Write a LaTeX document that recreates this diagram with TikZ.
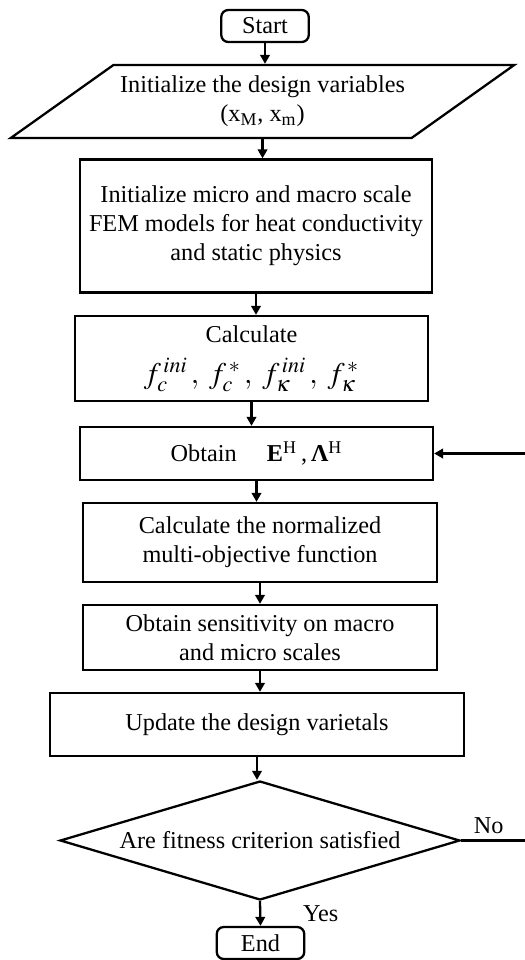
\documentclass[tikz,border=0pt]{standalone}
\usepackage{amsmath}
\usepackage{mathptmx}
\usepackage{fontspec}
\setmainfont{Liberation Serif}
\usetikzlibrary{
  arrows.meta,
  shapes.geometric,
  positioning
}
\definecolor{fcInk}{HTML}{000000}
\newcommand{\fcfont}{\fontsize{13.8}{16.5}\selectfont}
\tikzset{
  fcnode/.style={
    draw=fcInk, line width=1.3pt, font=\fcfont, align=center, inner sep=2pt
  },
  fcbox/.style={fcnode, rectangle, minimum width=7.06cm},
  fcterm/.style={fcnode, rounded corners=4pt, minimum width=1.75cm, minimum height=0.64cm},
  fcio/.style={fcnode, trapezium, trapezium left angle=30, trapezium right angle=150,
    trapezium stretches=true, minimum width=10.1cm, minimum height=1.46cm},
  fcdec/.style={fcnode, diamond, aspect=3.36, inner sep=0pt,
    minimum width=8cm, minimum height=2.38cm},
  fcflow/.style={-{Triangle[length=1.8mm,width=1.9mm]}, line width=1.3pt, fcInk},
  fctag/.style={font=\fcfont, inner sep=1pt}
}

\begin{document}
\begin{tikzpicture}[x=0.02cm, y=-0.02cm]
  \useasboundingbox (0,0) rectangle (524,960);
  % steps
  \node[fcterm] (start) at (265,26) {Start};
  \node[fcio] (initvar) at (262.5,101.5)
    {Initialize the design variables\\(x\textsubscript{M}, x\textsubscript{m})};
  \node[fcbox, minimum width=7.04cm, minimum height=2.66cm] (initfem) at (256,226)
    {Initialize micro and macro scale\\FEM models for heat conductivity\\and static physics};
  \node[fcbox, minimum height=1.7cm] (calcf) at (251.5,358.5)
    {Calculate\\[7pt]{\fontsize{17}{19}\selectfont
     $f_{c}^{\,ini}\,,\;f_{c}^{\,*}\,,\;f_{\kappa}^{\,ini}\,,\;f_{\kappa}^{\,*}$}};
  \node[fcbox, minimum height=1.06cm] (obtain) at (256.5,453.5)
    {Obtain\quad\ \textbf{E}\textsuperscript{H}\,,\,\textbf{Λ}\textsuperscript{H}};
  \node[fcbox, minimum width=7.08cm, minimum height=1.58cm] (normobj) at (260,542.5)
    {Calculate the normalized\\multi-objective function};
  \node[fcbox, minimum width=7.08cm, minimum height=1.3cm] (sens) at (260,637.5)
    {Obtain sensitivity on macro\\and micro scales};
  \node[fcbox, minimum width=8.28cm, minimum height=1.26cm] (update) at (257,724.5)
    {Update the design varietals};
  \node[fcdec] (check) at (260,840.5) {Are fitness criterion satisfied};
  \node[fcterm] (stop) at (260.5,943) {End};
  \coordinate (loopR) at (540,840.5);

  % connectors
  \draw[fcflow] (start) -- (start |- initvar.north);
  \draw[fcflow] (initvar.south) -- (initvar.south |- initfem.north);
  \draw[fcflow] (initfem.south) -- (initfem.south |- calcf.north);
  \draw[fcflow] (calcf.south) -- (calcf.south |- obtain.north);
  \draw[fcflow] (obtain.south) -- (obtain.south |- normobj.north);
  \draw[fcflow] (normobj.south) -- (normobj.south |- sens.north);
  \draw[fcflow] (sens.south) -- (sens.south |- update.north);
  \draw[fcflow] (update.south) -- (update.south |- check.north);
  \draw[fcflow] (check.south) -- node[fctag, right=0.8cm] {Yes} (stop.north);
  \draw[fcflow] (check.east) -- node[fctag, above=2pt, pos=0.35] {No} (loopR) |- (obtain.east);
\end{tikzpicture}
\end{document}
